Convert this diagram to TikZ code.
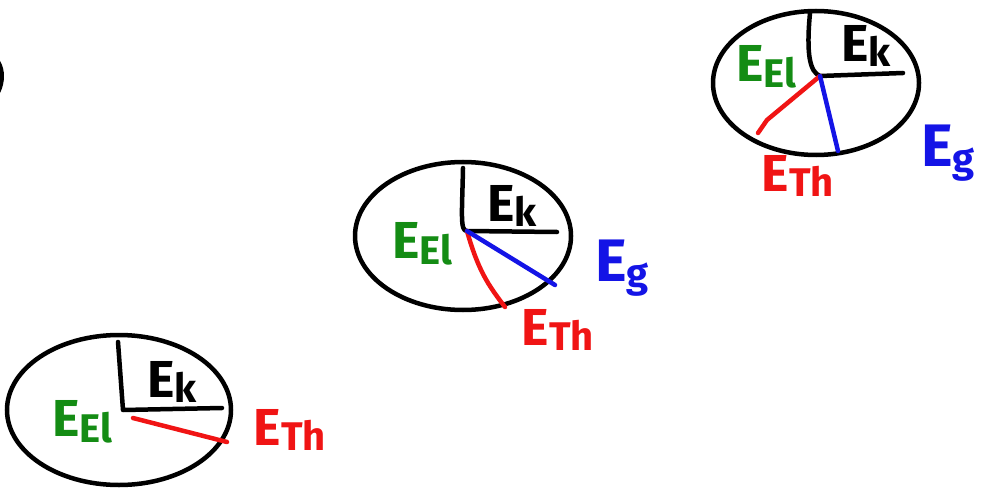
\documentclass[tikz,border=0pt]{standalone}
\usepackage{fontspec}
\setmainfont{Fira Sans}
\usetikzlibrary{shapes.geometric,positioning}
\definecolor{penGreen}{RGB}{20,140,20}
\definecolor{penRed}{RGB}{240,20,20}
\definecolor{penBlue}{RGB}{20,20,230}
\newcommand{\esub}[2]{#1\raisebox{-0.2ex}{\fontsize{40}{42}\selectfont #2}}
\tikzset{
  %% rim of each energy pie
  pieRim/.style={draw=black, line width=4.5pt, ellipse, inner sep=0pt},
  %% dividing strokes
  pieLine/.style={line width=4.5pt, line cap=round, line join=round},
  %% energy labels
  enLbl/.style={inner sep=0pt, font=\fontsize{52}{56}\selectfont\bfseries},
  bigLbl/.style={inner sep=0pt, font=\fontsize{60}{64}\selectfont\bfseries},
}
\begin{document}
\begin{tikzpicture}[x=1pt, y=-1pt]
\useasboundingbox (0,0) rectangle (981,489);

%% cut-off stroke at left edge
\draw[pieLine] (-2,62) .. controls (3,70) and (3,82) .. (-2,92);

%% Pie 1 (bottom left)
\node[pieRim, minimum width=224, minimum height=150] (pieA) at (119,410) {};
\coordinate (kA0) at (118,342);
\coordinate (cA)  at (123,410);
\coordinate (kA1) at (222,408);
\coordinate (tA0) at (133,418);
\coordinate (tA1) at (227,442);
\draw[pieLine] (kA0) -- (cA) -- (kA1);
\draw[pieLine, penRed] (tA0) -- (tA1);
\node[enLbl] (ekA) at (172,382) {\esub{E}{k}};
\node[enLbl, text=penGreen] (elA) at (82,422) {\esub{E}{El}};
\node[enLbl, text=penRed] (thA) at (290,430) {\esub{E}{Th}};

%% Pie 2 (middle)
\node[pieRim, minimum width=216, minimum height=148] (pieB) at (463,236) {};
\coordinate (kB0) at (463,168);
\coordinate (cB)  at (467,231);
\coordinate (kB1) at (557,232);
\coordinate (tB1) at (505,307);
\coordinate (gB1) at (555,285);
\draw[pieLine] (kB0) .. controls (462,215) and (460,231) .. (cB) -- (kB1);
\draw[pieLine, penRed] (cB) .. controls (478,270) and (488,285) .. (tB1);
\draw[pieLine, penBlue] (cB) -- (gB1);
\node[enLbl] (ekB) at (512,206) {\esub{E}{k}};
\node[enLbl, text=penGreen] (elB) at (422,244) {\esub{E}{El}};
\node[bigLbl, text=penBlue] (gB) at (622,268) {\esub{E}{g}};
\node[enLbl, text=penRed] (thB) at (558,330) {\esub{E}{Th}};

%% Pie 3 (top right)
\node[pieRim, minimum width=206, minimum height=144] (pieC) at (816,83) {};
\coordinate (kC0) at (810,13);
\coordinate (cC)  at (820,76);
\coordinate (kC1) at (903,73);
\coordinate (tC1) at (758,133);
\coordinate (gC1) at (838,151);
\draw[pieLine] (kC0) .. controls (806,55) and (810,72) .. (cC) -- (kC1);
\draw[pieLine, penRed] (cC) -- (767,120) -- (tC1);
\draw[pieLine, penBlue] (cC) -- (gC1);
\node[enLbl] (ekC) at (866,46) {\esub{E}{k}};
\node[enLbl, text=penGreen] (elC) at (766,67) {\esub{E}{El}};
\node[bigLbl, text=penBlue] (gC) at (948,153) {\esub{E}{g}};
\node[enLbl, text=penRed] (thC) at (798,176) {\esub{E}{Th}};

\end{tikzpicture}
\end{document}
